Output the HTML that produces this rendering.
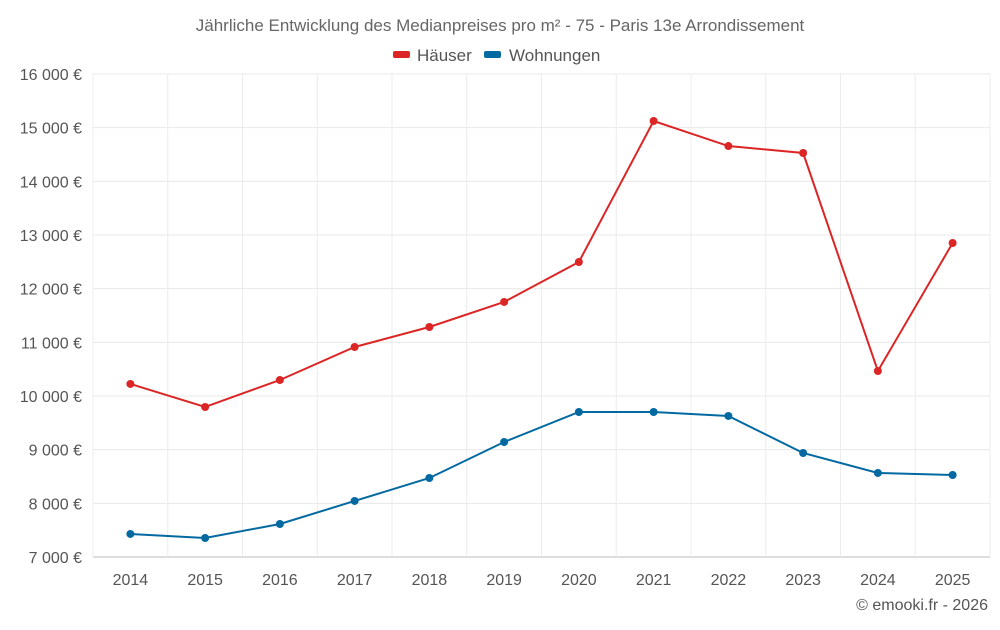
<!DOCTYPE html>
<html><head><meta charset="utf-8">
<style>
body{margin:0;background:#fff;font-family:"Liberation Sans",sans-serif;}
svg text{font-family:"Liberation Sans",sans-serif;}
</style></head>
<body>
<svg id="chart" width="1000" height="625" xmlns="http://www.w3.org/2000/svg">
<text x="500" y="31" text-anchor="middle" font-size="17" fill="#666">Jährliche Entwicklung des Medianpreises pro m² - 75 - Paris 13e Arrondissement</text>
<g>
<g><rect x="393" y="51" width="17" height="7" rx="2" fill="#dc2626"/><text x="417" y="61" font-size="17" fill="#555">Häuser</text></g>
<g><rect x="484" y="51" width="17" height="7" rx="2" fill="#0369a1"/><text x="509" y="61" font-size="17" fill="#555">Wohnungen</text></g>
</g>
<g id="grid"></g>
<g id="axes"></g>
<g id="series"></g>
<text x="988" y="610" text-anchor="end" font-size="16" fill="#555">© emooki.fr - 2026</text>
</svg>
<script>
const years=["2014","2015","2016","2017","2018","2019","2020","2021","2022","2023","2024","2025"];
const haeuser=[10224,9795,10298,10913,11286,11752,12497,15124,14658,14528,10466,12851];
const wohnungen=[7429,7354,7615,8044,8472,9143,9702,9702,9628,8938,8566,8528];
const yTicks=[7000,8000,9000,10000,11000,12000,13000,14000,15000,16000];
const yTickLabels=["7 000 €","8 000 €","9 000 €","10 000 €","11 000 €","12 000 €","13 000 €","14 000 €","15 000 €","16 000 €"];
const NS="http://www.w3.org/2000/svg";
const L=93,R=990,T=74,B=557,yMin=7000,yMax=16000;
const bw=(R-L)/years.length;
const x=i=>L+bw*(i+0.5);
const y=v=>B-(v-yMin)/(yMax-yMin)*(B-T);
function mk(tag,attrs,parent){const e=document.createElementNS(NS,tag);for(const k in attrs)e.setAttribute(k,attrs[k]);parent.appendChild(e);return e;}
const grid=document.getElementById('grid'),axes=document.getElementById('axes'),ser=document.getElementById('series');
yTicks.forEach((v,i)=>{
 const ln=mk('line',{x1:L,x2:R,y1:y(v),y2:y(v),stroke:i===0?'#bbb':'#e8e8e8','stroke-width':1},grid);
 
 
 const t=mk('text',{x:82,y:y(v)+6,'text-anchor':'end','font-size':16,fill:'#555'},axes);
 t.textContent=yTickLabels[i];
 
 
});
for(let i=0;i<=years.length;i++){
 const ln=mk('line',{x1:L+bw*i,x2:L+bw*i,y1:T,y2:B,stroke:'#ececec','stroke-width':1},grid);
 
 
}
years.forEach((yr,i)=>{
 const t=mk('text',{x:x(i),y:585,'text-anchor':'middle','font-size':16,fill:'#555'},axes);
 t.textContent=yr;
 
 
});
function draw(data,color,name){
 const p=mk('polyline',{points:data.map((v,i)=>x(i)+','+y(v)).join(' '),fill:'none',stroke:color,'stroke-width':2},ser);
 
 
 data.forEach((v,i)=>{
  const c=mk('circle',{cx:x(i),cy:y(v),r:4,fill:color},ser);
  
  
 });
}
draw(haeuser,'#dc2626','haeuser');
draw(wohnungen,'#0369a1','wohnungen');
</script>
</body></html>
